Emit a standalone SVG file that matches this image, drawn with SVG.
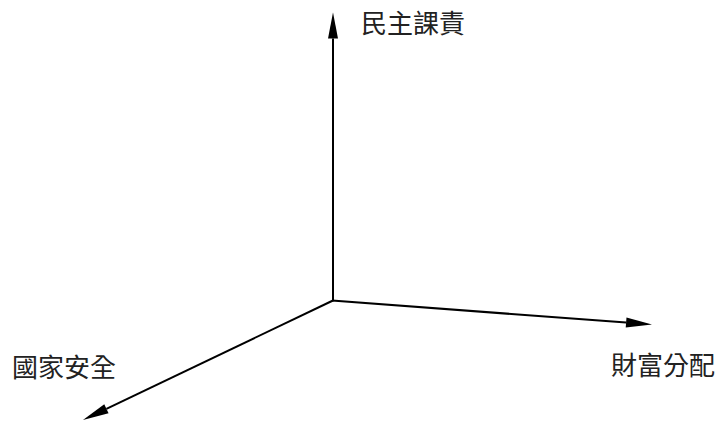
<svg xmlns="http://www.w3.org/2000/svg" width="719" height="421" viewBox="0 0 719 421">
<style>
.axis{stroke:#000;stroke-width:2;fill:none;marker-end:url(#ah)}
.lbl{font-family:"Noto Sans CJK TC","Noto Sans CJK SC",sans-serif;font-size:26px;fill:#222}
</style>
<defs>
<marker id="ah" markerUnits="userSpaceOnUse" markerWidth="27" markerHeight="11" refX="0" refY="5" orient="auto" overflow="visible">
<path d="M0,0 L26,5 L0,10 z" fill="#000"/>
</marker>
</defs>
<rect width="719" height="421" fill="#fff"/>
<g id="connectors">
<path class="axis" d="M333,301 L333,38.5"/>
<path class="axis" d="M332,300.5 L626.1,322.6"/>
<path class="axis" d="M334,300 L106.4,408.8"/>
</g>
<g id="node-democracy"><text class="lbl" x="361" y="33">民主課責</text></g>
<g id="node-wealth"><text class="lbl" x="611" y="375">財富分配</text></g>
<g id="node-security"><text class="lbl" x="12" y="377">國家安全</text></g>
</svg>
